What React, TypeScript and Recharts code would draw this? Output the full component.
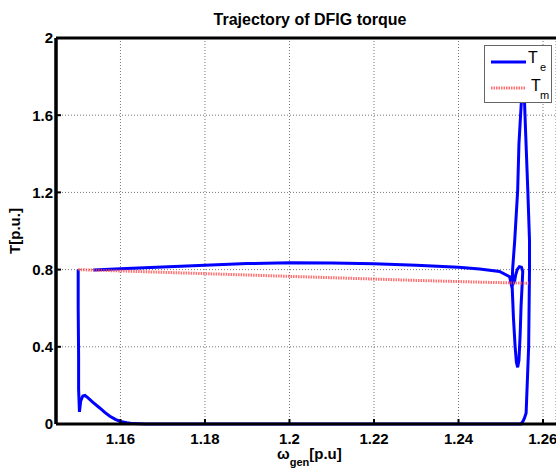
import { CartesianGrid, Legend, Line, LineChart, ReferenceLine, XAxis, YAxis } from "recharts";

// electromagnetic torque trajectory (omega_gen, Te), in simulation order
const teOmega = [
  1.15, 1.15, 1.1501, 1.1501, 1.1503, 1.1506, 1.1511, 1.1516, 1.1522, 1.1535,
  1.1551, 1.1563, 1.1575, 1.1588, 1.16, 1.1615, 1.163, 1.166, 1.2, 1.2548,
  1.2552, 1.2556, 1.256, 1.2566, 1.2568, 1.2568, 1.2564, 1.2559, 1.2556, 1.2553,
  1.2549, 1.2543, 1.254, 1.2533, 1.2528, 1.2527, 1.253, 1.2534, 1.2537, 1.254,
  1.2543, 1.2546, 1.2548, 1.2551, 1.2552, 1.2549, 1.2544, 1.2539, 1.2535, 1.2533,
  1.2526, 1.2521, 1.2497, 1.245, 1.24, 1.23, 1.22, 1.21, 1.2, 1.19,
  1.18, 1.17, 1.16, 1.1536,
];
const teTorque = [
  0.8, 0.6, 0.35, 0.18, 0.063, 0.12, 0.145, 0.148, 0.138, 0.112,
  0.083, 0.06, 0.04, 0.024, 0.013, 0.006, 0.002, 0, 0, 0,
  0.012, 0.03, 0.057, 0.4, 0.8, 0.95, 1.21, 1.5, 1.68, 1.74,
  1.68, 1.45, 1.21, 0.95, 0.8, 0.71, 0.55, 0.4, 0.32, 0.294,
  0.33, 0.47, 0.61, 0.74, 0.79, 0.812, 0.815, 0.8, 0.77, 0.745,
  0.712, 0.763, 0.79, 0.803, 0.812, 0.823, 0.83, 0.834, 0.835, 0.831,
  0.823, 0.813, 0.804, 0.798,
];

// mechanical torque
const tmOmega = [1.15, 1.17, 1.2, 1.23, 1.245, 1.2566];
const tmTorque = [0.8, 0.786, 0.765, 0.744, 0.735, 0.729];

const omegaTicks = [1.16, 1.18, 1.2, 1.22, 1.24, 1.26];
const torqueTicks = [0, 0.4, 0.8, 1.2, 1.6, 2];
const omegaDomain = [1.14475, 1.26307];

const teData = teOmega.map((w, i) => ({ w, t: teTorque[i] }));
const tmData = tmOmega.map((w, i) => ({ w, t: tmTorque[i] }));

const font = '"Liberation Sans", Arial, Helvetica, sans-serif';
const tickStyle = { fill: "#000", fontSize: 15, fontWeight: 700, fontFamily: font };
const frame = { stroke: "#000", strokeWidth: 3 };

function TorqueLegend() {
  return (
    <div
      style={{
        width: 68,
        height: 58,
        background: "#fff",
        border: "1px solid #666",
        boxSizing: "border-box",
      }}
    >
      <svg width={66} height={56} style={{ display: "block", fontFamily: font }}>
        <line x1={6} y1={16} x2={41} y2={16} stroke="#0000ff" strokeWidth={3} />
        <text x={43} y={17} fontSize={16}>T</text>
        <text x={55} y={25} fontSize={11}>e</text>
        <line
          x1={6}
          y1={42}
          x2={41}
          y2={42}
          stroke="#ff4040"
          strokeOpacity={0.75}
          strokeWidth={3}
          strokeDasharray="1.5 1"
        />
        <text x={46} y={45} fontSize={16}>T</text>
        <text x={55} y={53} fontSize={11}>m</text>
      </svg>
    </div>
  );
}

export default function App() {
  return (
    <div style={{ position: "absolute", left: 0, top: 0, width: 556, height: 468 }}>
      <LineChart
        width={556}
        height={468}
        margin={{ top: 38, right: 0, bottom: 0, left: 0 }}
      >
        <CartesianGrid stroke="#777" strokeDasharray="1 2" />
        <XAxis
          dataKey="w"
          type="number"
          domain={omegaDomain}
          allowDataOverflow
          ticks={omegaTicks}
          tickFormatter={(v) => String(v)}
          height={44}
          axisLine={frame}
          tickLine={{ stroke: "#000", strokeWidth: 2 }}
          tickSize={-5}
          tickMargin={14}
          tick={tickStyle}
        />
        <XAxis
          xAxisId="top"
          orientation="top"
          dataKey="w"
          type="number"
          domain={omegaDomain}
          allowDataOverflow
          ticks={omegaTicks}
          tickFormatter={() => ""}
          height={0}
          axisLine={frame}
          tickLine={{ stroke: "#000", strokeWidth: 2 }}
          tickSize={-5}
        />
        <YAxis
          dataKey="t"
          type="number"
          domain={[0, 2]}
          ticks={torqueTicks}
          tickFormatter={(v) => String(v)}
          width={56}
          axisLine={frame}
          tickLine={{ stroke: "#000", strokeWidth: 2 }}
          tickSize={-5}
          tickMargin={8}
          tick={tickStyle}
        />
        <ReferenceLine x={omegaDomain[0]} stroke="#000" strokeWidth={3} ifOverflow="visible" />
        <ReferenceLine y={2} stroke="#000" strokeWidth={3} ifOverflow="visible" />
        <Legend
          layout="vertical"
          align="center"
          verticalAlign="middle"
          wrapperStyle={{ left: 484, top: 45, width: 68, height: 58 }}
          content={() => <TorqueLegend />}
        />
        <Line
          data={teData}
          dataKey="t"
          name="Te"
          stroke="#0000ff"
          strokeWidth={3}
          dot={false}
          type="linear"
          isAnimationActive={false}
        />
        <Line
          data={tmData}
          dataKey="t"
          name="Tm"
          stroke="#ff4040"
          strokeOpacity={0.75}
          strokeWidth={3}
          strokeDasharray="1.5 1"
          dot={false}
          type="linear"
          isAnimationActive={false}
        />
      </LineChart>
      <svg
        width={556}
        height={468}
        style={{ position: "absolute", left: 0, top: 0, pointerEvents: "none", fontFamily: font }}
      >
        <text x={310} y={25} textAnchor="middle" fontSize={16} fontWeight={700}>
          Trajectory of DFIG torque
        </text>
        <text
          x={0}
          y={0}
          transform="translate(20 231) rotate(-90)"
          textAnchor="middle"
          fontSize={15}
          fontWeight={700}
        >
          T[p.u.]
        </text>
        <text x={277} y={459} fontSize={15} fontWeight={700}>
          ω
          <tspan dy={7} fontSize={11}>gen</tspan>
          <tspan dy={-7} fontSize={15}>[p.u]</tspan>
        </text>
      </svg>
    </div>
  );
}
